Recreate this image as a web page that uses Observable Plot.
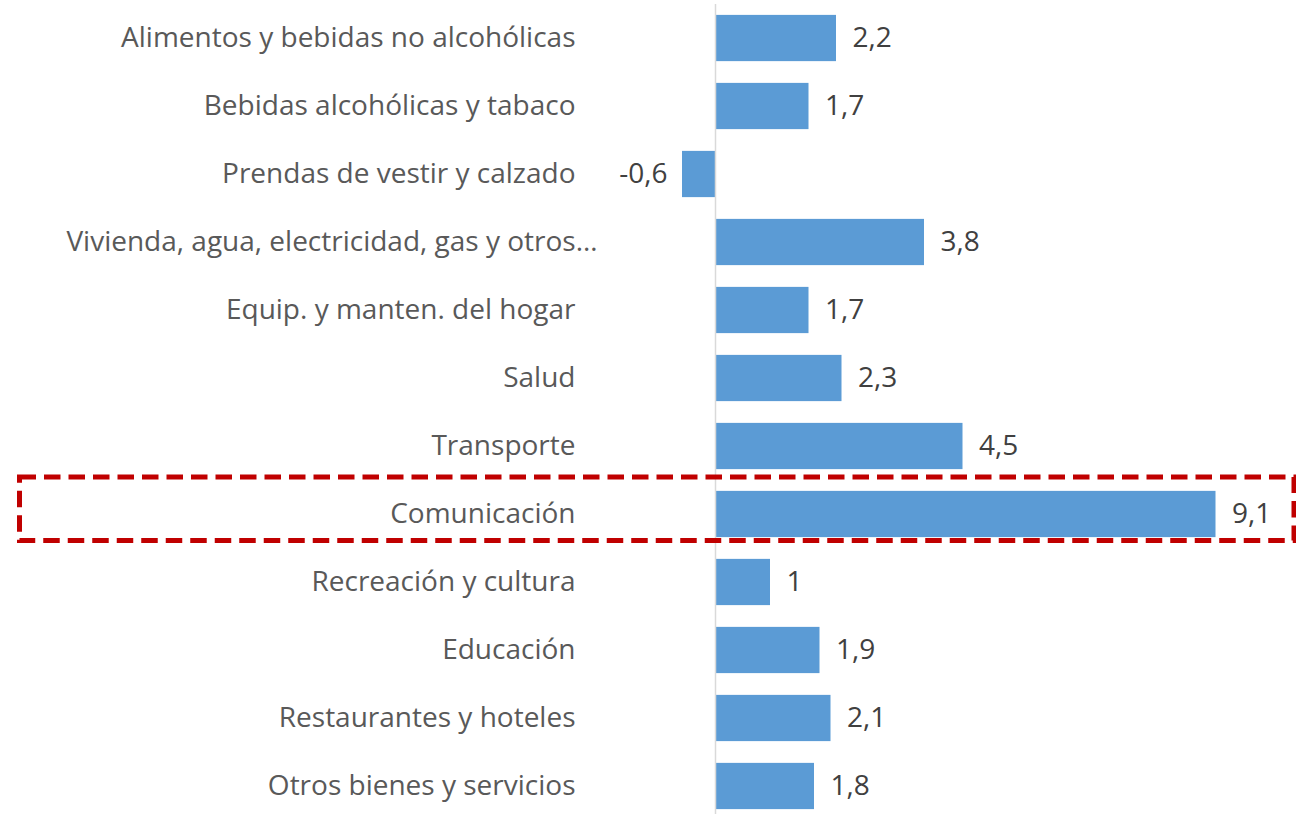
<!DOCTYPE html>
<html>
<head>
<meta charset="utf-8">
<script src="https://cdn.jsdelivr.net/npm/d3@7"></script>
<script src="https://cdn.jsdelivr.net/npm/@observablehq/plot@0.6"></script>
<style>
  html, body { margin: 0; padding: 0; background: #fff; }
  #chart svg { display: block; }
</style>
</head>
<body>
<div id="chart"></div>
<script>
const categories = [
  "Alimentos y bebidas no alcohólicas",
  "Bebidas alcohólicas y tabaco",
  "Prendas de vestir y calzado",
  "Vivienda, agua, electricidad, gas y otros…",
  "Equip. y manten. del hogar",
  "Salud",
  "Transporte",
  "Comunicación",
  "Recreación y cultura",
  "Educación",
  "Restaurantes y hoteles",
  "Otros bienes y servicios"
];
const values = [2.2, 1.7, -0.6, 3.8, 1.7, 2.3, 4.5, 9.1, 1.0, 1.9, 2.1, 1.8];
const highlighted = "Comunicación";
const longLabel = "Vivienda, agua, electricidad, gas y otros…";

const data = categories.map((c, i) => ({cat: c, value: values[i]}));
const fmt = v => String(v).replace(".", ",");

// Custom highlight box around a row
function highlightBox(cat) {
  return (index, scales, channels, dimensions) => {
    const y0 = scales.y(cat);
    const bw = scales.y.bandwidth();
    const g = d3.create("svg:g");
    g.append("rect")
      .attr("x", 19.5)
      .attr("y", y0 - 14)
      .attr("width", dimensions.width - 19.5 - 2)
      .attr("height", bw + 17.5)
      .attr("fill", "none")
      .attr("stroke", "#C00000")
      .attr("stroke-width", 5)
      .attr("stroke-dasharray", "16.5,8");
    return g.node();
  };
}

const chart = Plot.plot({
  width: 1296,
  height: 814,
  marginLeft: 605,
  marginRight: 3.5,
  marginTop: 4,
  marginBottom: 0,
  style: {fontFamily: "'Open Sans', sans-serif", fontSize: "28px", background: "#fff"},
  x: {domain: [-2, 10.5], axis: null},
  y: {domain: categories, paddingInner: 0.32, paddingOuter: 0.116, align: 0.69, round: false, axis: null},
  marks: [
    Plot.barX(data, {x: "value", y: "cat", fill: "#5B9BD5"}),
    Plot.ruleX([0], {stroke: "#d9d9d9", strokeWidth: 1.5}),
    Plot.text(data.filter(d => d.value >= 0), {
      x: "value", y: "cat", text: d => fmt(d.value),
      textAnchor: "start", dx: 16, fill: "#404040", fontSize: 28
    }),
    Plot.text(data.filter(d => d.value < 0), {
      x: "value", y: "cat", text: d => fmt(d.value),
      textAnchor: "end", dx: -15, fill: "#404040", fontSize: 28
    }),
    Plot.axisY(categories.filter(c => c !== longLabel), {
      tickSize: 0, tickPadding: 30, color: "#595959", fontSize: 28, label: null
    }),
    Plot.axisY([longLabel], {
      tickSize: 0, tickPadding: 8, color: "#595959", fontSize: 28, label: null
    }),
    highlightBox(highlighted)
  ]
});

document.getElementById("chart").appendChild(chart);
</script>
</body>
</html>
